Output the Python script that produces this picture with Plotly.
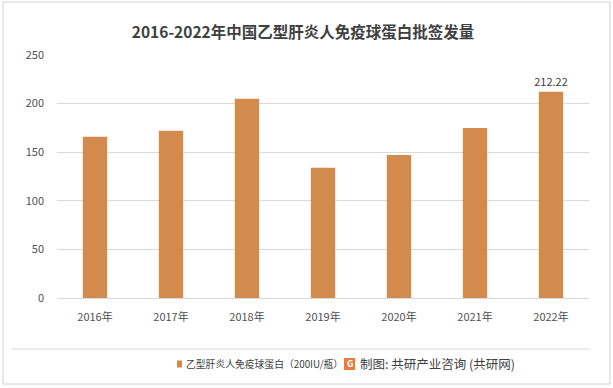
import plotly.graph_objects as go

years = ["2016年", "2017年", "2018年", "2019年", "2020年", "2021年", "2022年"]
values = [166, 172, 205, 134, 147, 175, 212.22]
series_name = "乙型肝炎人免疫球蛋白（200IU/瓶）"
y_ticks = [0, 50, 100, 150, 200, 250]
title = "2016-2022年中国乙型肝炎人免疫球蛋白批签发量"
source = "制图: 共研产业咨询 (共研网)"

W, H = 613, 388
L, R, T, B = 57, 24, 55, 90
pw, ph = W - L - R, H - T - B

def px_x(x):
    return (x - L) / pw

def px_y(y):
    return (H - B - y) / ph

labels = ["" for _ in values]
labels[-1] = f"{values[-1]:.2f}"

font = "Microsoft YaHei, Noto Sans CJK SC, sans-serif"
bar_color = "#D38B4D"

fig = go.Figure()
fig.add_trace(go.Bar(
    x=years, y=values, name=series_name,
    marker=dict(color=bar_color, line=dict(width=0)),
    width=0.32,
    text=labels, textposition="outside", constraintext="none",
    textfont=dict(size=11, color="#404040", family=font),
    cliponaxis=False, showlegend=False, hoverinfo="skip",
))

fig.update_layout(
    width=W, height=H,
    margin=dict(l=L, r=R, t=T, b=B, autoexpand=False),
    paper_bgcolor="white", plot_bgcolor="white",
    font=dict(family=font, color="#595959", size=11),
    title=dict(text="<b>" + title + "</b>", x=303 / W, xref="container", xanchor="center",
               y=1 - 33 / H, yanchor="middle", yref="container",
               font=dict(size=15.5, color="#404040", family=font)),
    showlegend=False,
)
fig.update_xaxes(showline=False, ticks="", tickfont=dict(size=11, color="#505050"),
                 showgrid=False, automargin=False, ticklabelstandoff=11)
fig.update_yaxes(range=[0, 250], tickvals=y_ticks, showgrid=True, gridcolor="#D9D9D9",
                 gridwidth=1, zeroline=True, zerolinecolor="#D9D9D9", zerolinewidth=1,
                 showline=False, ticks="", ticklabelstandoff=12, automargin=False,
                 tickfont=dict(size=11, color="#505050"))

# separator line above legend
fig.add_shape(type="line", xref="paper", yref="paper",
              x0=px_x(12), x1=px_x(590), y0=px_y(349), y1=px_y(349),
              line=dict(color="#D9D9D9", width=1))
# outer border
fig.add_shape(type="rect", xref="paper", yref="paper",
              x0=px_x(3), x1=px_x(610), y0=px_y(384), y1=px_y(2),
              line=dict(color="#D0D0D0", width=1), layer="below")
# legend marker and text
fig.add_shape(type="rect", xref="paper", yref="paper",
              x0=px_x(177), x1=px_x(182), y0=px_y(367.5), y1=px_y(360.5),
              fillcolor=bar_color, line=dict(width=0))
fig.add_annotation(xref="paper", yref="paper", x=px_x(184), y=px_y(364),
                   text=series_name, showarrow=False, xanchor="left", yanchor="middle",
                   font=dict(size=9.8, color="#404040", family=font))
# logo
fig.add_shape(type="rect", xref="paper", yref="paper",
              x0=px_x(344), x1=px_x(355), y0=px_y(370), y1=px_y(358),
              fillcolor="#EE7A3A", line=dict(width=0))
fig.add_annotation(xref="paper", yref="paper", x=px_x(349.5), y=px_y(364),
                   text="<b>G</b>", showarrow=False,
                   font=dict(size=9, color="white", family=font),
                   borderpad=0, xanchor="center", yanchor="middle")
fig.add_annotation(xref="paper", yref="paper", x=px_x(358), y=px_y(364),
                   text=source, showarrow=False, xanchor="left", yanchor="middle",
                   font=dict(size=12.5, color="#404040", family=font))

fig.write_html("out.html", config={"displayModeBar": False},
               post_script="document.body.style.margin='0';")
